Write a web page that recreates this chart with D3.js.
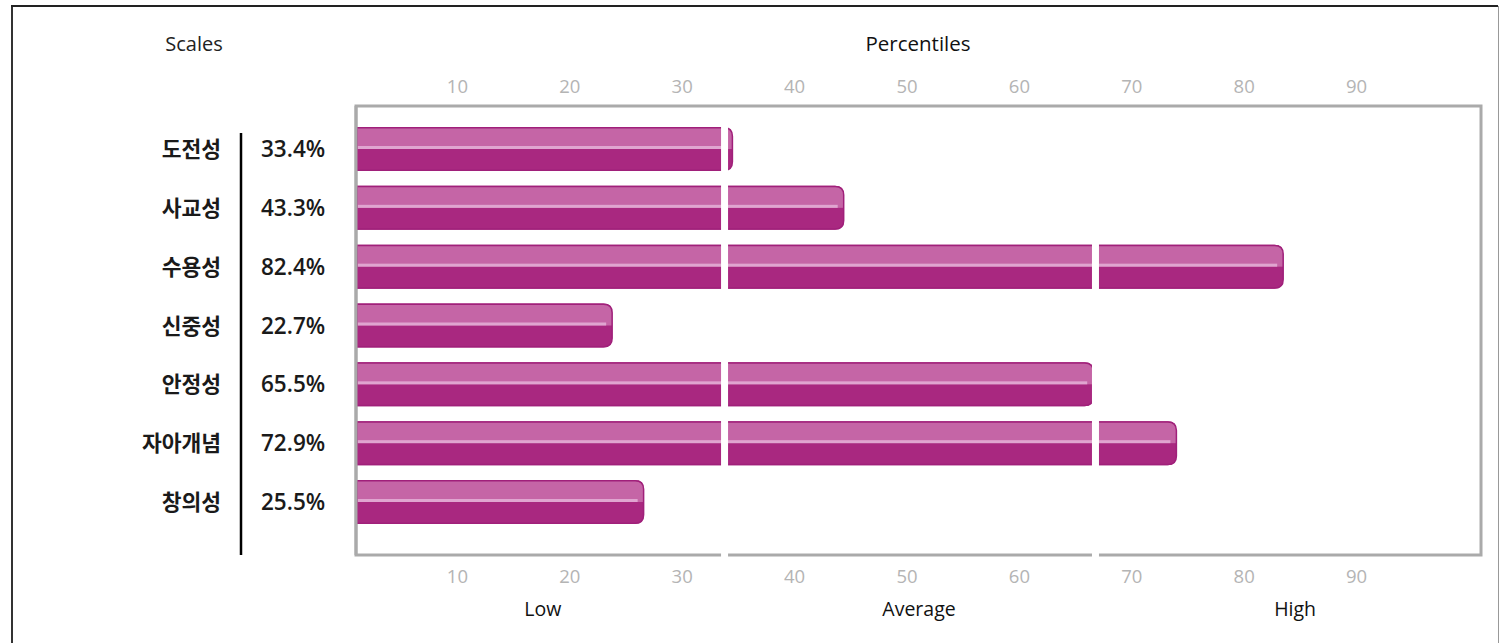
<!DOCTYPE html>
<html>
<head>
<meta charset="utf-8">
<script src="https://cdn.jsdelivr.net/npm/d3@7"></script>
<style>
  body { margin: 0; background: #fff; }
  text { font-family: "Open Sans", "Noto Sans CJK KR", sans-serif; }
</style>
</head>
<body>
<div id="chart-container"></div>
<script>
// Chart data
const scales = ["도전성", "사교성", "수용성", "신중성", "안정성", "자아개념", "창의성"];
const percentiles = [33.4, 43.3, 82.4, 22.7, 65.5, 72.9, 25.5];
const tickValues = [10, 20, 30, 40, 50, 60, 70, 80, 90];
const bandLabels = ["Low", "Average", "High"];
const separators = [32.7, 65.7];

const W = 1501, H = 643;
const box = { left: 357, right: 1481, top: 106, bottom: 555 };

const svg = d3.select("#chart-container")
  .append("svg")
  .attr("width", W)
  .attr("height", H);

// Scales
const x = d3.scaleLinear().domain([0, 100]).range([box.left, box.right]);
const xTick = x.copy().range([box.left - 12, box.right - 12]);
const y = d3.scalePoint().domain(scales).range([149, 502]);
const xBand = d3.scaleBand().domain(bandLabels).range([box.left, box.right]);
const barH = 44;

// Outer frame
svg.append("line").attr("x1", 12).attr("x2", 12).attr("y1", 6).attr("y2", H)
  .attr("stroke", "#333").attr("stroke-width", 2);
svg.append("line").attr("x1", 11).attr("x2", 1498).attr("y1", 6).attr("y2", 6)
  .attr("stroke", "#222").attr("stroke-width", 2);
svg.append("line").attr("x1", 1498.5).attr("x2", 1498.5).attr("y1", 6).attr("y2", H)
  .attr("stroke", "#999").attr("stroke-width", 1);

// Titles
svg.append("text").attr("x", 194).attr("y", 51)
  .attr("text-anchor", "middle").attr("font-size", 20).attr("fill", "#222")
  .text("Scales");
svg.append("text").attr("x", x(50) - 1).attr("y", 51)
  .attr("text-anchor", "middle").attr("font-size", 20.5).attr("fill", "#111")
  .text("Percentiles");

// Tick labels top and bottom
[93, 583].forEach(ty => {
  svg.append("g").selectAll("text")
    .data(tickValues)
    .enter().append("text")
    .attr("x", d => xTick(d))
    .attr("y", ty)
    .attr("text-anchor", "middle")
    .attr("font-size", 18.5)
    .attr("fill", "#b4b4b4")
    .text(d => d);
});

// Low / Average / High
svg.append("g").selectAll("text")
  .data(bandLabels)
  .enter().append("text")
  .attr("x", (d, i) => xBand(d) + xBand.bandwidth() / 2 + (i - 1) * 1.5)
  .attr("y", 616)
  .attr("text-anchor", "middle")
  .attr("font-size", 19.5)
  .attr("fill", "#111")
  .text(d => d);

// Left labels
svg.append("g").selectAll("text")
  .data(scales)
  .enter().append("text")
  .attr("x", 221)
  .attr("y", d => y(d) + 8)
  .attr("text-anchor", "end")
  .attr("font-family", "'Noto Sans CJK KR', sans-serif")
  .attr("font-weight", 700)
  .attr("font-size", 21.5)
  .attr("fill", "#1a1a1a")
  .text(d => d);

svg.append("g").selectAll("text")
  .data(percentiles)
  .enter().append("text")
  .attr("x", 261)
  .attr("y", (d, i) => y(scales[i]) + 8)
  .attr("font-weight", 600)
  .attr("font-size", 22.5)
  .attr("fill", "#1a1a1a")
  .text(d => d.toFixed(1) + "%");

svg.append("line").attr("x1", 241).attr("x2", 241).attr("y1", 133).attr("y2", 555)
  .attr("stroke", "#000").attr("stroke-width", 2.5);

// Plot box
svg.append("rect")
  .attr("x", box.left - 1).attr("y", box.top)
  .attr("width", box.right - box.left + 1).attr("height", box.bottom - box.top)
  .attr("fill", "#fff").attr("stroke", "#aaa").attr("stroke-width", 3);

// Bar shape: square left end, rounded right end
function barPath(x0, x1, yc, h, r) {
  const t = yc - h / 2, b = yc + h / 2;
  r = Math.min(r, (x1 - x0));
  return `M${x0},${t}H${x1 - r}Q${x1},${t} ${x1},${t + r}V${b - r}Q${x1},${b} ${x1 - r},${b}H${x0}Z`;
}

const bars = svg.append("g").selectAll("g")
  .data(percentiles)
  .enter().append("g");

const barDefs = svg.append("defs");
percentiles.forEach((d, i) => {
  barDefs.append("clipPath").attr("id", "clip" + i)
    .append("path")
    .attr("d", barPath(x(0), x(d), y(scales[i]), barH, 9));
});

bars.append("path")
  .attr("d", (d, i) => barPath(x(0), x(d), y(scales[i]), barH, 9))
  .attr("fill", "#a92880");

// lighter top half
bars.append("rect")
  .attr("clip-path", (d, i) => `url(#clip${i})`)
  .attr("x", x(0))
  .attr("y", (d, i) => y(scales[i]) - barH / 2)
  .attr("width", d => x(d) - x(0))
  .attr("height", barH / 2)
  .attr("fill", "#c565a6");

// highlight line
bars.append("rect")
  .attr("clip-path", (d, i) => `url(#clip${i})`)
  .attr("x", x(0))
  .attr("y", (d, i) => y(scales[i]) - 3)
  .attr("width", d => Math.max(0, x(d) - x(0) - 6))
  .attr("height", 3)
  .attr("fill", "#e0a5d0");

// outline
bars.append("path")
  .attr("d", (d, i) => barPath(x(0), x(d), y(scales[i]), barH - 1.5, 8.5))
  .attr("fill", "none")
  .attr("stroke", "#a0207a")
  .attr("stroke-width", 1.5);

// redraw left box edge over bars
svg.append("line").attr("x1", box.left - 1).attr("x2", box.left - 1)
  .attr("y1", box.top).attr("y2", box.bottom)
  .attr("stroke", "#aaa").attr("stroke-width", 3);

// White separators
svg.append("g").selectAll("rect")
  .data(separators)
  .enter().append("rect")
  .attr("x", d => x(d) - 3.5)
  .attr("y", 122)
  .attr("width", 7)
  .attr("height", 436)
  .attr("fill", "#fff");
</script>
</body>
</html>
